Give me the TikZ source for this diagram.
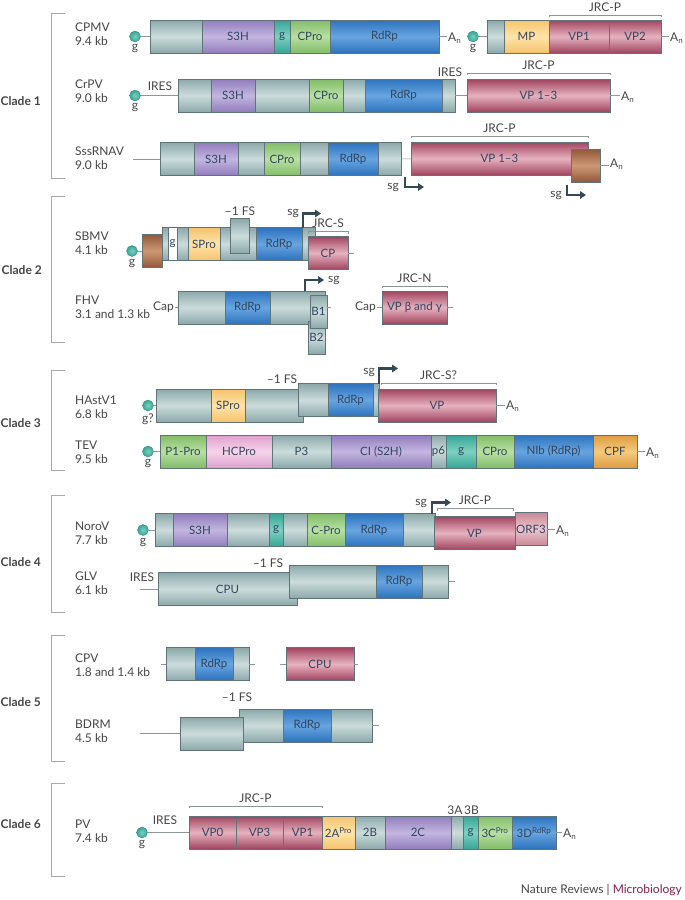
\documentclass[tikz,border=0pt]{standalone}
\usepackage{fontspec}
\setmainfont{Lato}
\usepackage{xcolor}
\usepackage{tikz}
\usetikzlibrary{positioning, arrows.meta}

\definecolor{grD}{RGB}{140,168,170}
\definecolor{grL}{RGB}{204,220,220}
\definecolor{puD}{RGB}{145,125,188}
\definecolor{puL}{RGB}{194,182,224}
\definecolor{teD}{RGB}{55,165,150}
\definecolor{teL}{RGB}{125,208,192}
\definecolor{gnD}{RGB}{130,188,105}
\definecolor{gnL}{RGB}{184,224,162}
\definecolor{blD}{RGB}{45,115,190}
\definecolor{blL}{RGB}{104,164,224}
\definecolor{vpD}{RGB}{160,68,95}
\definecolor{vpL}{RGB}{230,178,192}
\definecolor{yeD}{RGB}{245,195,110}
\definecolor{yeL}{RGB}{255,228,168}
\definecolor{brD}{RGB}{145,88,58}
\definecolor{brL}{RGB}{206,152,116}
\definecolor{pkD}{RGB}{222,160,205}
\definecolor{pkL}{RGB}{247,212,234}
\definecolor{orD}{RGB}{222,155,65}
\definecolor{orL}{RGB}{246,202,124}
\definecolor{ofD}{RGB}{200,135,150}
\definecolor{ofL}{RGB}{236,198,207}
\definecolor{whD}{RGB}{255,255,255}
\definecolor{whL}{RGB}{255,255,255}
\definecolor{edge}{RGB}{95,115,120}
\definecolor{wirecol}{RGB}{140,150,150}
\definecolor{brkcol}{RGB}{170,170,170}
\definecolor{ink}{RGB}{70,70,70}
\definecolor{seglab}{RGB}{50,70,95}
\definecolor{sgcol}{RGB}{55,72,85}
\definecolor{micro}{RGB}{140,30,75}

\begin{document}
\begin{tikzpicture}[
    x=1pt, y=-1pt,
    every node/.style={font=\fontsize{12}{14}\selectfont, text=ink},
    box/.style={rectangle, draw=edge, line width=0.4pt, inner sep=0pt, outer sep=0pt, anchor=west,
        minimum height=33pt, top color=#1D, bottom color=#1D, middle color=#1L, text=seglab,
        font=\fontsize{11.5}{13}\selectfont},
    box/.default=gr,
    vname/.style={anchor=west, align=left, inner sep=0pt},
    clade/.style={anchor=east, inner sep=0pt, font=\fontsize{12}{14}\selectfont\bfseries},
    lab/.style={inner sep=1pt},
    vpg/.style={circle, inner sep=0pt, minimum size=11pt, inner color=teL, outer color=teD, draw=teD!80!black, line width=0.3pt},
    wire/.style={draw=wirecol, line width=0.6pt},
    brk/.style={draw=wirecol, line width=0.6pt},
    sgarrow/.style={draw=sgcol, line width=2.2pt, -{Triangle[length=6pt, width=7.5pt]}},
    bracket/.style={draw=brkcol, line width=0.9pt},
]
    \fill[white] (0,0) rectangle (685,900);
    \useasboundingbox (0,0) rectangle (685,900);

    % clade brackets
    \draw[bracket] (65,13) -| (51,178) -- (65,178);
    \draw[bracket] (65,196) -| (51,342) -- (65,342);
    \draw[bracket] (65,370) -| (51,470) -- (65,470);
    \draw[bracket] (65,495) -| (51,612) -- (65,612);
    \draw[bracket] (65,635) -| (51,761) -- (65,761);
    \draw[bracket] (65,783) -| (51,876) -- (65,876);
    \node[clade] (c1) at (41,101) {Clade 1};
    \node[clade] (c2) at (42,270) {Clade 2};
    \node[clade] (c3) at (41,423) {Clade 3};
    \node[clade] (c4) at (41,562) {Clade 4};
    \node[clade] (c5) at (41,702) {Clade 5};
    \node[clade] (c6) at (41,824) {Clade 6};

    % virus names
    \node[vname] (cpmvN) at (75,34.5)  {CPMV\\9.4 kb};
    \node[vname] (crpvN) at (75,91.5)  {CrPV\\9.0 kb};
    \node[vname] (sssN)  at (75,158)   {SssRNAV\\9.0 kb};
    \node[vname] (sbmvN) at (75,243)   {SBMV\\4.1 kb};
    \node[vname] (fhvN)  at (75,307)   {FHV\\3.1 and 1.3 kb};
    \node[vname] (hasN)  at (75,407)   {HAstV1\\6.8 kb};
    \node[vname] (tevN)  at (75,452.5) {TEV\\9.5 kb};
    \node[vname] (norN)  at (75,533)   {NoroV\\7.7 kb};
    \node[vname] (glvN)  at (75,583.5) {GLV\\6.1 kb};
    \node[vname] (cpvN)  at (75,665.5) {CPV\\1.8 and 1.4 kb};
    \node[vname] (bdrN)  at (75,731)   {BDRM\\4.5 kb};
    \node[vname] (pvN)   at (75,831)   {PV\\7.4 kb};

    % CPMV
    \node[vpg] (cpmvG1) at (135,36.5) {};
    \node[lab, below=1pt of cpmvG1] (cpmvG1l) {g};
    \node[box, minimum width=52pt]       (cpmvA) at (150,36.5) {};
    \node[box=pu, minimum width=72pt]    (cpmvB) at (202,36.5) {S3H};
    \node[box=te, minimum width=16pt]    (cpmvC) at (274,36.5) {g};
    \node[box=gn, minimum width=40pt]    (cpmvD) at (290,36.5) {CPro};
    \node[box=bl, minimum width=109pt]   (cpmvE) at (330,36.5) {RdRp};
    \node[lab, anchor=west] (cpmvAn1) at (447,38) {A\textsubscript{n}};
    \node[vpg] (cpmvG2) at (473,36.5) {};
    \node[lab, below=1pt of cpmvG2] (cpmvG2l) {g};
    \node[box, minimum width=17pt]       (cpmvF) at (487,36.5) {};
    \node[box=ye, minimum width=45pt]    (cpmvG) at (504,36.5) {MP};
    \node[box=vp, minimum width=60pt]    (cpmvH) at (549,36.5) {VP1};
    \node[box=vp, minimum width=52pt]    (cpmvI) at (609,36.5) {VP2};
    \node[lab, anchor=west] (cpmvAn2) at (669,38) {A\textsubscript{n}};
    \draw[wire] (cpmvG1) -- (cpmvA);
    \draw[wire] (cpmvE.east) -- (cpmvE.east -| cpmvAn1.west);
    \draw[wire] (cpmvG2) -- (cpmvF);
    \draw[wire] (cpmvI.east) -- (cpmvI.east -| cpmvAn2.west);
    \draw[brk] ([yshift=3pt]cpmvH.north west) -- ++(0,-2) -| node[pos=0.25, above] (cpmvJ) {JRC-P} ([yshift=3pt]cpmvI.north east);

    % CrPV
    \node[vpg] (crpvG1) at (135,95.5) {};
    \node[lab, below=1pt of crpvG1] (crpvG1l) {g};
    \node[lab] (crpvR1) at (160,86) {IRES};
    \node[box, minimum width=33pt]       (crpvA) at (178,95.5) {};
    \node[box=pu, minimum width=44pt]    (crpvB) at (211,95.5) {S3H};
    \node[box, minimum width=54pt]       (crpvC) at (255,95.5) {};
    \node[box=gn, minimum width=34pt]    (crpvD) at (309,95.5) {CPro};
    \node[box, minimum width=22pt]       (crpvE) at (343,95.5) {};
    \node[box=bl, minimum width=77pt]    (crpvF) at (365,95.5) {RdRp};
    \node[box, minimum width=13pt]       (crpvG) at (442,95.5) {};
    \node[lab] (crpvR2) at (450,72) {IRES};
    \node[box=vp, minimum width=143pt]   (crpvH) at (467,95.5) {VP 1–3};
    \node[lab, anchor=west] (crpvAn) at (620,97) {A\textsubscript{n}};
    \draw[wire] (crpvG1) -- (crpvA);
    \draw[wire] (crpvG) -- (crpvH);
    \draw[wire] (crpvH.east) -- (crpvH.east -| crpvAn.west);
    \draw[brk] ([yshift=4pt]crpvH.north west) -- ++(0,-2) -| node[pos=0.25, above] (crpvJ) {JRC-P} ([yshift=4pt]crpvH.north east);

    % SssRNAV
    \coordinate (sssS) at (133,159);
    \node[box, minimum width=34pt]       (sssA) at (160,159) {};
    \node[box=pu, minimum width=44pt]    (sssB) at (194,159) {S3H};
    \node[box, minimum width=26pt]       (sssC) at (238,159) {};
    \node[box=gn, minimum width=36pt]    (sssD) at (264,159) {CPro};
    \node[box, minimum width=28pt]       (sssE) at (300,159) {};
    \node[box=bl, minimum width=50pt]    (sssF) at (328,159) {RdRp};
    \node[box, minimum width=23pt]       (sssG) at (378,159) {};
    \node[box=vp, minimum width=177pt]   (sssH) at (411,158.5) {VP 1–3};
    \node[box=br, minimum width=29pt]    (sssI) at (571,165.5) {};
    \node[lab, anchor=west] (sssAn) at (609,164) {A\textsubscript{n}};
    \draw[wire] (sssS) -- (sssA);
    \draw[wire] (sssG) -- (sssH);
    \draw[wire] (sssI.east) -- (sssI.east -| sssAn.west);
    \draw[brk] ([yshift=4pt]sssH.north west) -- ++(0,-2) -| node[pos=0.25, above] (sssJ) {JRC-P} ([yshift=4pt]sssH.north east);
    \draw[sgarrow] ([xshift=-6pt, yshift=-2pt]sssH.south west) -- ++(0,10) -- ++(19,0);
    \node[lab, anchor=east] (sssP1) at (400,188) {sg};
    \draw[sgarrow] ([xshift=-4pt, yshift=-3pt]sssI.south west) -- ++(0,10) -- ++(19,0);
    \node[lab, anchor=east] (sssP2) at (563,196) {sg};

    % SBMV
    \node[vpg] (sbmvG1) at (132,251) {};
    \node[lab, below=1pt of sbmvG1] (sbmvG1l) {g};
    \node[box=br, minimum width=20pt]    (sbmvA) at (142,251) {};
    \node[box, minimum width=6pt]        (sbmvB) at (162,244) {};
    \node[box=wh, minimum width=9pt]     (sbmvC) at (168,244) {g};
    \node[box, minimum width=11pt]       (sbmvD) at (177,244) {};
    \node[box=ye, minimum width=32pt]    (sbmvE) at (188,244) {SPro};
    \node[box, minimum width=36pt]       (sbmvF) at (220,244) {};
    \node[box=bl, minimum width=46pt]    (sbmvG) at (256,244) {RdRp};
    \node[box, minimum width=13pt]       (sbmvH) at (302,244) {};
    \node[box, minimum width=19pt, minimum height=35pt] (sbmvI) at (230,236) {};
    \node[lab] (sbmvFS) at (240,211) {–1 FS};
    \node[box=vp, minimum width=40pt]    (sbmvJ) at (308,253) {CP};
    \coordinate (sbmvE2) at (354,253);
    \draw[wire] (sbmvG1) -- (sbmvA);
    \draw[wire] (sbmvJ) -- (sbmvE2);
    \draw[brk] ([yshift=3pt]sbmvJ.north west) -- ++(0,-2) -| node[pos=0.25, above] (sbmvK) {JRC-S} ([yshift=3pt]sbmvJ.north east);
    \draw[sgarrow] ([xshift=1pt]sbmvH.north west) -- ++(0,-14) -- ++(18,0);
    \node[lab, anchor=east] (sbmvP) at (300,214) {sg};

    % FHV
    \node[lab, anchor=east] (fhvCap1) at (175,307.5) {Cap};
    \node[box, minimum width=47pt]       (fhvA) at (178,307.5) {};
    \node[box=bl, minimum width=45pt]    (fhvB) at (225,307.5) {RdRp};
    \node[box, minimum width=55pt]       (fhvC) at (270,307.5) {};
    \node[box, minimum width=17pt]       (fhvD) at (308,337.5) {B2};
    \node[box, minimum width=17pt]       (fhvE) at (310,311.5) {B1};
    \coordinate (fhvE2) at (331,307.5);
    \draw[wire] (fhvCap1) -- (fhvA);
    \draw[wire] (fhvE.east |- fhvE2) -- (fhvE2);
    \draw[sgarrow] ([xshift=-20pt]fhvC.north east) -- ++(0,-11) -- ++(19,0);
    \node[lab, anchor=west] (fhvP) at (327,281) {sg};
    \node[lab, anchor=east] (fhvCap2) at (377,307.5) {Cap};
    \node[box=vp, minimum width=65pt]    (fhvF) at (382,307.5) {VP β and γ};
    \coordinate (fhvE3) at (453,307.5);
    \draw[wire] (fhvCap2) -- (fhvF);
    \draw[wire] (fhvF) -- (fhvE3);
    \draw[brk] ([yshift=3pt]fhvF.north west) -- ++(0,-2) -| node[pos=0.25, above] (fhvK) {JRC-N} ([yshift=3pt]fhvF.north east);

    % HAstV1
    \node[vpg] (hasG1) at (148,405.5) {};
    \node[lab, below=1pt of hasG1] (hasG1l) {g?};
    \node[box, minimum width=55pt]       (hasA) at (156,405.5) {};
    \node[box=ye, minimum width=34pt]    (hasB) at (211,405.5) {SPro};
    \node[box, minimum width=58pt]       (hasC) at (245,405.5) {};
    \node[box, minimum width=30pt]       (hasD) at (298,400) {};
    \node[box=bl, minimum width=45pt]    (hasE) at (328,400) {RdRp};
    \node[box, minimum width=6pt]        (hasF) at (373,400) {};
    \node[box=vp, minimum width=118pt]   (hasG) at (378,405.5) {VP};
    \node[lab] (hasFS) at (282,379) {–1 FS};
    \node[lab, anchor=west] (hasAn) at (505,406) {A\textsubscript{n}};
    \draw[wire] (hasG1) -- (hasA);
    \draw[wire] (hasG.east) -- (hasG.east -| hasAn.west);
    \draw[sgarrow] (hasF.north east) -- ++(0,-15) -- ++(19,0);
    \node[lab, anchor=east] (hasP) at (376,372) {sg};
    \draw[brk] ([xshift=3pt, yshift=4pt]hasG.north west) -- ++(0,-2) -| node[pos=0.25, above] (hasK) {JRC-S?} ([yshift=4pt]hasG.north east);

    % TEV
    \node[vpg] (tevG1) at (148,451.5) {};
    \node[lab, below=1pt of tevG1] (tevG1l) {g};
    \node[box=gn, minimum width=46pt]    (tevA) at (160,451.5) {P1-Pro};
    \node[box=pk, minimum width=66pt]    (tevB) at (206,451.5) {HCPro};
    \node[box, minimum width=59pt]       (tevC) at (272,451.5) {P3};
    \node[box=pu, minimum width=100pt]   (tevD) at (331,451.5) {CI (S2H)};
    \node[box, minimum width=15pt]       (tevE) at (431,451.5) {p6};
    \node[box=te, minimum width=30pt]    (tevF) at (446,451.5) {g};
    \node[box=gn, minimum width=38pt]    (tevG) at (476,451.5) {CPro};
    \node[box=bl, minimum width=79pt]    (tevH) at (514,451.5) {NIb (RdRp)};
    \node[box=or, minimum width=44pt]    (tevI) at (593,451.5) {CPF};
    \node[lab, anchor=west] (tevAn) at (645,453) {A\textsubscript{n}};
    \draw[wire] (tevG1) -- (tevA);
    \draw[wire] (tevI.east) -- (tevI.east -| tevAn.west);

    % NoroV
    \node[vpg] (norG1) at (143,530) {};
    \node[lab, below=1pt of norG1] (norG1l) {g};
    \node[box, minimum width=18pt]       (norA) at (155,530) {};
    \node[box=pu, minimum width=54pt]    (norB) at (173,530) {S3H};
    \node[box, minimum width=42pt]       (norC) at (227,530) {};
    \node[box=te, minimum width=14pt]    (norD) at (269,530) {g};
    \node[box, minimum width=24pt]       (norE) at (283,530) {};
    \node[box=gn, minimum width=38pt]    (norF) at (307,530) {C-Pro};
    \node[box=bl, minimum width=58pt]    (norG) at (345,530) {RdRp};
    \node[box, minimum width=32pt]       (norH) at (403,530) {};
    \node[box=vp, minimum width=81pt]    (norI) at (434,533) {VP};
    \node[box=of, minimum width=32pt]    (norJ) at (515,529) {ORF3};
    \node[lab, anchor=west] (norAn) at (555,531) {A\textsubscript{n}};
    \draw[wire] (norG1) -- (norA);
    \draw[wire] (norJ.east) -- (norJ.east -| norAn.west);
    \draw[sgarrow] ([xshift=-3pt]norH.north east) -- ++(0,-11) -- ++(19,0);
    \node[lab, anchor=east] (norP) at (428,503) {sg};
    \draw[brk] ([xshift=3pt, yshift=6pt]norI.north west) -- ++(0,-2) -| node[pos=0.25, above] (norK) {JRC-P} ([xshift=-2pt, yshift=6pt]norI.north east);

    % GLV
    \coordinate (glvS) at (140,589);
    \node[lab] (glvR) at (142,577) {IRES};
    \node[box, minimum width=139pt]      (glvA) at (158,589) {CPU};
    \node[box, minimum width=87pt]       (glvB) at (289,581.5) {};
    \node[box=bl, minimum width=46pt]    (glvC) at (376,581.5) {RdRp};
    \node[box, minimum width=26pt]       (glvD) at (422,581.5) {};
    \node[lab] (glvFS) at (268,563) {–1 FS};
    \coordinate (glvE) at (455,581.5);
    \draw[wire] (glvS) -- (glvA);
    \draw[wire] (glvD) -- (glvE);

    % CPV
    \coordinate (cpvS1) at (161,664);
    \coordinate (cpvE1) at (255,664);
    \coordinate (cpvS2) at (280,664);
    \coordinate (cpvE2) at (358,664);
    \node[box, minimum width=29pt]       (cpvA) at (166,664) {};
    \node[box=bl, minimum width=38pt]    (cpvB) at (195,664) {RdRp};
    \node[box, minimum width=16pt]       (cpvC) at (233,664) {};
    \node[box=vp, minimum width=68pt]    (cpvD) at (286,664) {CPU};
    \draw[wire] (cpvS1) -- (cpvA);
    \draw[wire] (cpvC) -- (cpvE1);
    \draw[wire] (cpvS2) -- (cpvD);
    \draw[wire] (cpvD) -- (cpvE2);

    % BDRM
    \coordinate (bdrS) at (140,733.5);
    \node[box, minimum width=44pt]       (bdrB) at (239,725.5) {};
    \node[box=bl, minimum width=48pt]    (bdrC) at (283,725.5) {RdRp};
    \node[box, minimum width=41pt]       (bdrD) at (331,725.5) {};
    \node[box, minimum width=63pt]       (bdrA) at (180,733.5) {};
    \node[lab] (bdrFS) at (237,697) {–1 FS};
    \coordinate (bdrE) at (379,725.5);
    \draw[wire] (bdrS) -- (bdrA);
    \draw[wire] (bdrD) -- (bdrE);

    % PV
    \node[vpg] (pvG1) at (142,832.5) {};
    \node[lab, below=1pt of pvG1] (pvG1l) {g};
    \node[lab] (pvR) at (165,820) {IRES};
    \node[box=vp, minimum width=47pt]    (pvA) at (189,832.5) {VP0};
    \node[box=vp, minimum width=47pt]    (pvB) at (236,832.5) {VP3};
    \node[box=vp, minimum width=39pt]    (pvC) at (283,832.5) {VP1};
    \node[box=ye, minimum width=33pt]    (pvD) at (322,832.5) {2A\textsuperscript{Pro}};
    \node[box, minimum width=30pt]       (pvE) at (355,832.5) {2B};
    \node[box=pu, minimum width=66pt]    (pvF) at (385,832.5) {2C};
    \node[box, minimum width=12pt]       (pvG) at (451,832.5) {};
    \node[box=te, minimum width=15pt]    (pvH) at (463,832.5) {g};
    \node[box=gn, minimum width=34pt]    (pvI) at (478,832.5) {3C\textsuperscript{Pro}};
    \node[box=bl, minimum width=44pt]    (pvJ) at (512,832.5) {3D\textsuperscript{RdRp}};
    \node[lab, inner sep=0pt, above=1pt of pvG, xshift=-2pt] (pv3A) {3A};
    \node[lab, inner sep=0pt, above=1pt of pvH, xshift=1pt] (pv3B) {3B};
    \node[lab, anchor=west] (pvAn) at (562,834) {A\textsubscript{n}};
    \draw[wire] (pvG1) -- (pvA);
    \draw[wire] (pvJ.east) -- (pvJ.east -| pvAn.west);
    \draw[brk] ([yshift=8pt]pvA.north west) -- ++(0,-2) -| node[pos=0.25, above] (pvK) {JRC-P} ([yshift=8pt]pvC.north east);

    % journal
    \node[anchor=east, inner sep=0pt] (nrm) at (682,890) {Nature Reviews | \textcolor{micro}{Microbiology}};
\end{tikzpicture}
\end{document}
